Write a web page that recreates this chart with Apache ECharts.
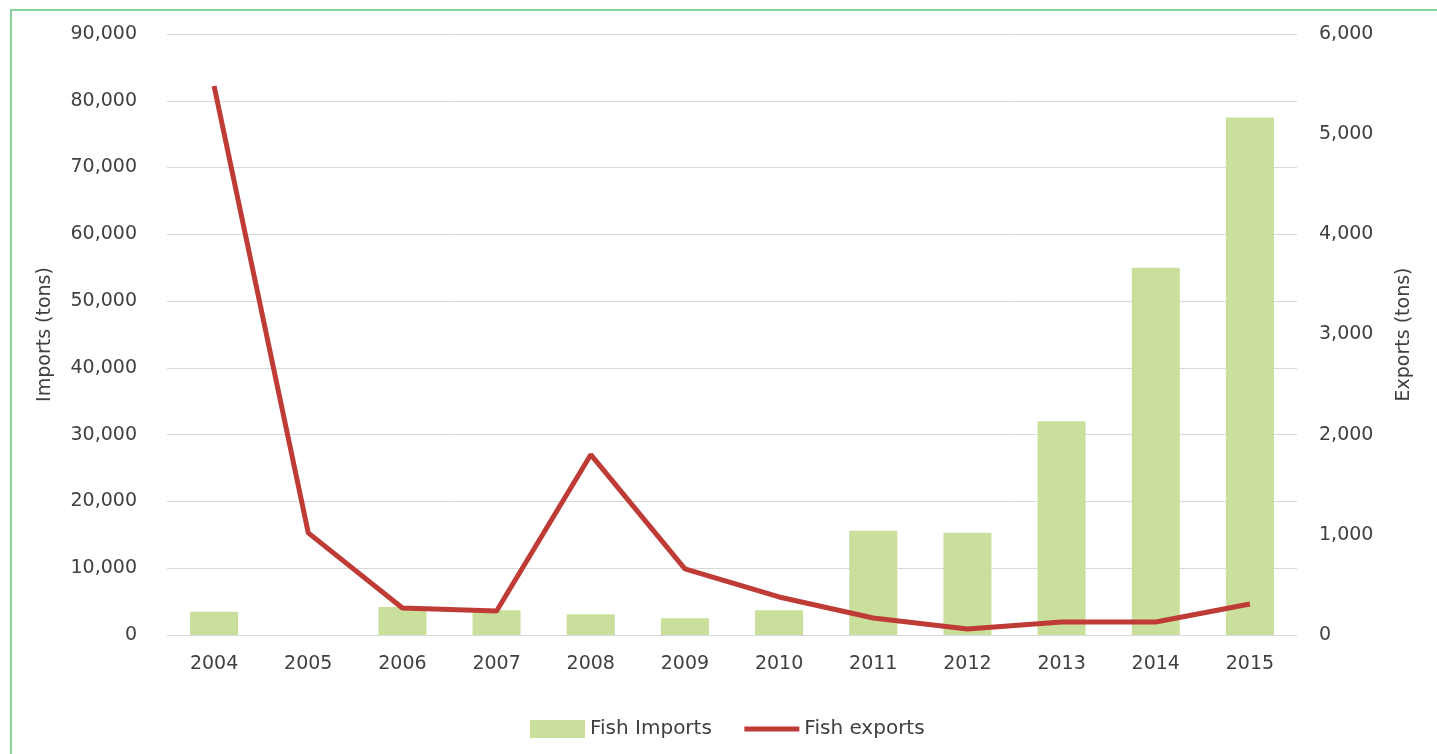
<!DOCTYPE html>
<html>
<head>
<meta charset="utf-8">
<script src="https://cdn.jsdelivr.net/npm/echarts@6/dist/echarts.min.js"></script>
<style>
  html, body { margin: 0; padding: 0; background: #ffffff; }
  #wrap { position: relative; width: 1437px; height: 754px; overflow: hidden; }
  #chart { position: absolute; left: 0; top: 0; width: 1437px; height: 754px; }
  #frame { position: absolute; left: 10px; top: 9px; width: 1440px; height: 760px;
           border-top: 2px solid #86d49b; border-left: 2px solid #86d49b; pointer-events: none; }
</style>
</head>
<body>
<div id="wrap">
  <div id="chart"></div>
  <div id="frame"></div>
</div>
<script>
// Years on the category axis
const years = ['2004', '2005', '2006', '2007', '2008', '2009', '2010', '2011', '2012', '2013', '2014', '2015'];
// Fish imports, tons (left axis)
const fishImports = [3500, 0, 4200, 3700, 3100, 2500, 3700, 15600, 15300, 32000, 55000, 77500];
// Fish exports, tons (right axis)
const fishExports = [5480, 1020, 270, 240, 1800, 660, 380, 170, 60, 130, 130, 310];

const labelFont = { fontFamily: 'DejaVu Sans', fontSize: 19, color: '#404040' };
const fmt = v => v.toLocaleString('en-US');

const chart = echarts.init(document.getElementById('chart'), null, { renderer: 'canvas' });
chart.setOption({
  animation: false,
  backgroundColor: '#ffffff',
  grid: { left: 167, right: 140, top: 34, bottom: 119, containLabel: false },
  legend: {
    left: 525, top: 714,
    itemWidth: 55, itemHeight: 18, itemGap: 30,
    textStyle: { fontFamily: 'DejaVu Sans', fontSize: 20, color: '#404040' },
    data: [
      { name: 'Fish Imports', icon: 'rect' },
      { name: 'Fish exports', itemStyle: { opacity: 0 }, lineStyle: { width: 5, color: '#bf3b36' } }
    ]
  },
  xAxis: {
    type: 'category',
    data: years,
    axisLine: { show: false },
    axisTick: { show: false },
    axisLabel: Object.assign({ margin: 20 }, labelFont)
  },
  yAxis: [
    {
      type: 'value', min: 0, max: 90000, interval: 10000,
      name: 'Imports (tons)', nameLocation: 'middle', nameRotate: 90, nameGap: 112,
      nameTextStyle: { fontFamily: 'DejaVu Sans', fontSize: 19, color: '#404040' },
      axisLine: { show: false }, axisTick: { show: false },
      axisLabel: Object.assign({ margin: 30, formatter: fmt }, labelFont),
      splitLine: { lineStyle: { color: '#d9d9d9', width: 1 } }
    },
    {
      type: 'value', min: 0, max: 6000, interval: 1000, position: 'right',
      name: 'Exports (tons)', nameLocation: 'middle', nameRotate: 90, nameGap: 98,
      nameTextStyle: { fontFamily: 'DejaVu Sans', fontSize: 19, color: '#404040' },
      axisLine: { show: false }, axisTick: { show: false },
      axisLabel: Object.assign({ margin: 22, formatter: fmt }, labelFont),
      splitLine: { show: false }
    }
  ],
  series: [
    {
      name: 'Fish Imports', type: 'bar', yAxisIndex: 0,
      data: fishImports, barWidth: '51%',
      itemStyle: { color: '#cadf9c' }
    },
    {
      name: 'Fish exports', type: 'line', yAxisIndex: 1,
      data: fishExports, symbol: 'none',
      lineStyle: { color: '#bf3b36', width: 5 },
      itemStyle: { color: '#bf3b36' }
    }
  ]
});
</script>
</body>
</html>
